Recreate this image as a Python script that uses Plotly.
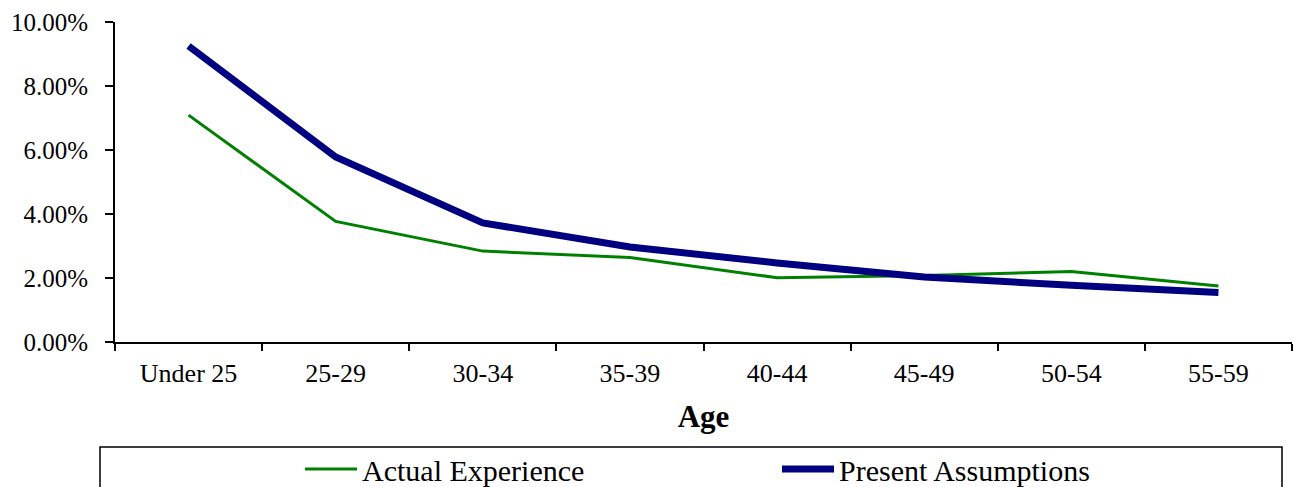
import plotly.graph_objects as go

categories = ["Under 25", "25-29", "30-34", "35-39", "40-44", "45-49", "50-54", "55-59"]
actual_experience = [0.0709, 0.0377, 0.0284, 0.0264, 0.0201, 0.0208, 0.0220, 0.0175]
present_assumptions = [0.0925, 0.0578, 0.0372, 0.0297, 0.0247, 0.0203, 0.0177, 0.0155]

FONT = "Liberation Serif"

fig = go.Figure()
fig.add_trace(go.Scatter(x=categories, y=actual_experience, mode="lines",
                         name="Actual Experience",
                         line=dict(color="#008000", width=3)))
fig.add_trace(go.Scatter(x=categories, y=present_assumptions, mode="lines",
                         name="Present Assumptions",
                         line=dict(color="#000080", width=7)))

W, H = 1294, 487
L, R, T, B = 115, 2, 22, 145
pw = W - L - R
ph = H - T - B

def px2paper_x(px):
    return (px - L) / pw

def px2paper_y(py):
    return (H - B - py) / ph

fig.add_shape(type="rect", xref="paper", yref="paper",
              x0=px2paper_x(100), x1=px2paper_x(1282),
              y0=px2paper_y(500), y1=px2paper_y(447),
              line=dict(color="black", width=1.5), fillcolor="rgba(0,0,0,0)")

fig.update_layout(
    width=W, height=H,
    margin=dict(l=L, r=R, t=T, b=B),
    paper_bgcolor="white", plot_bgcolor="white",
    font=dict(family=FONT, size=24, color="black"),
    showlegend=True,
    legend=dict(orientation="h", x=px2paper_x(300), xanchor="left",
                yref="container", y=1 - 469 / H, yanchor="middle",
                itemwidth=52, entrywidth=410, entrywidthmode="pixels",
                font=dict(family=FONT, size=30, color="black"),
                bgcolor="rgba(0,0,0,0)", borderwidth=0,
                itemclick=False, itemdoubleclick=False),
    xaxis=dict(type="category", range=[-0.5, 7.5], automargin=False,
               showline=True, linecolor="black", linewidth=2,
               ticks="outside", tickson="boundaries", ticklen=7,
               tickcolor="black", tickwidth=1.5,
               showgrid=False, zeroline=False, ticklabelstandoff=7,
               tickfont=dict(family=FONT, size=26, color="black"),
               title=dict(text="<b>Age</b>", standoff=18,
                          font=dict(family=FONT, size=31, color="black"))),
    yaxis=dict(range=[0, 0.10], dtick=0.02, tickformat=".2%", automargin=False,
               showline=True, linecolor="black", linewidth=2,
               ticks="outside", ticklen=8, tickcolor="black", tickwidth=1.5,
               showgrid=False, zeroline=False, ticklabelstandoff=12,
               tickfont=dict(family=FONT, size=25, color="black")),
)

fig.write_html("out.html")
